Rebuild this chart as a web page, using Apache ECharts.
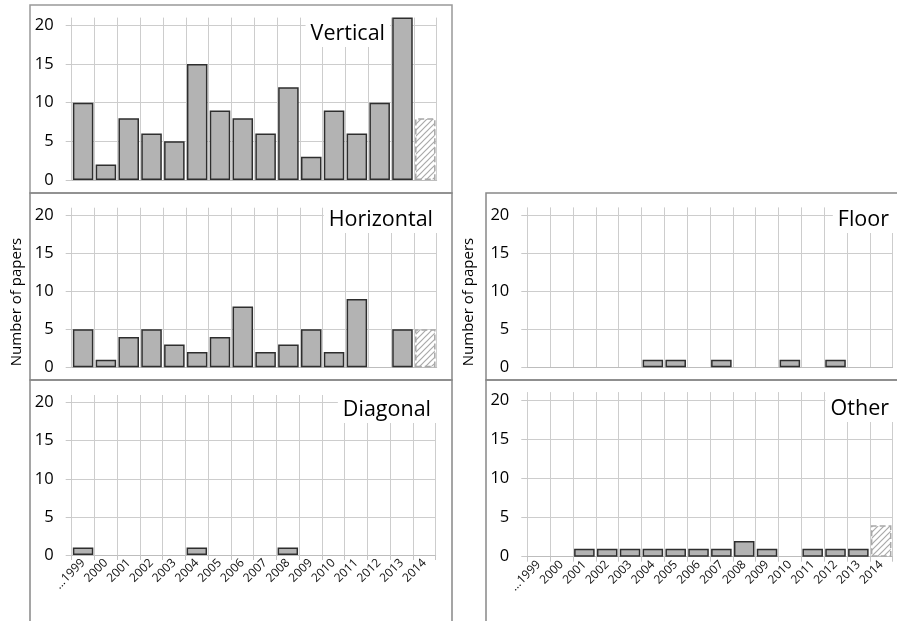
<!DOCTYPE html>
<html><head><meta charset="utf-8">
<script src="https://cdn.jsdelivr.net/npm/echarts@6/dist/echarts.min.js"></script>
<style>html,body{margin:0;padding:0;background:#fff}#c{width:897px;height:621px}</style>
</head><body><div id="c"></div>
<script>
// ---- data ----
const years = ['...1999','2000','2001','2002','2003','2004','2005','2006','2007','2008','2009','2010','2011','2012','2013','2014'];
const yTicks = [0, 5, 10, 15, 20];
const verticalCounts   = [10, 2, 8, 6, 5, 15, 9, 8, 6, 12, 3, 9, 6, 10, 21, 8];
const horizontalCounts = [5, 1, 4, 5, 3, 2, 4, 8, 2, 3, 5, 2, 9, 0, 5, 5];
const diagonalCounts   = [1, 0, 0, 0, 0, 1, 0, 0, 0, 1, 0, 0, 0, 0, 0, 0];
const floorCounts      = [0, 0, 0, 0, 0, 1, 1, 0, 1, 0, 0, 1, 0, 1, 0, 0];
const otherCounts      = [0, 0, 1, 1, 1, 1, 1, 1, 1, 2, 1, 0, 1, 1, 1, 4];
const partialYear = '2014';
const panelNames = ['Vertical', 'Horizontal', 'Diagonal', 'Floor', 'Other'];
const yAxisTitle = 'Number of papers';

// ---- layout / style ----
const FONT = '"Open Sans", "Liberation Sans", sans-serif';
const panels = [
  {counts: verticalCounts,   grid: {left: 71.7, top: 17.6, width: 365, height: 162.4}, tRight: 507, tTop: 15, labels: false},
  {counts: horizontalCounts, grid: {left: 71.7, top: 207.7, width: 365, height: 159.6}, tRight: 459, tTop: 201, labels: false},
  {counts: diagonalCounts,   grid: {left: 71.7, top: 395, width: 364, height: 160}, tRight: 461, tTop: 391, labels: true},
  {counts: floorCounts,      grid: {left: 527.3, top: 207.4, width: 365.3, height: 159.9}, tRight: 3, tTop: 201, labels: false},
  {counts: otherCounts,      grid: {left: 527.3, top: 392.1, width: 365.3, height: 164.6}, tRight: 3, tTop: 390, labels: true}
];

const pc = document.createElement('canvas'); pc.width = 6; pc.height = 6;
const g = pc.getContext('2d');
g.fillStyle = '#ffffff'; g.fillRect(0, 0, 6, 6);
g.strokeStyle = '#a9a9a9'; g.lineWidth = 1.2;
g.beginPath(); g.moveTo(0, 6); g.lineTo(6, 0); g.moveTo(-1, 1); g.lineTo(1, -1); g.moveTo(5, 7); g.lineTo(7, 5); g.stroke();
const hatchStyle = {color: {image: pc, repeat: 'repeat'}, borderColor: '#a8a8a8', borderType: 'dashed', borderWidth: 1.5};

function toData(arr) {
  return arr.map((v, i) => v === 0 ? '-' : (years[i] === partialYear ? {value: v, itemStyle: hatchStyle} : v));
}

const option = {
  animation: false,
  backgroundColor: '#fff',
  title: panels.map((p, i) => ({
    text: panelNames[i], right: p.tRight, top: p.tTop, backgroundColor: '#fff', padding: [7, 5, 2, 5],
    textStyle: {fontFamily: FONT, fontSize: 21.5, fontWeight: 'normal', color: '#000', lineHeight: 23}
  })),
  grid: panels.map(p => Object.assign({containLabel: false}, p.grid)),
  xAxis: panels.map((p, i) => ({
    type: 'category', gridIndex: i, data: years, boundaryGap: true,
    axisLine: {show: true, lineStyle: {color: '#bdbdbd', width: 1}},
    axisTick: {show: p.labels, interval: 0, length: 5, lineStyle: {color: '#c4c4c4'}},
    axisLabel: {show: p.labels, interval: 0, rotate: 45, margin: 6, fontSize: 12, color: '#111', fontFamily: FONT},
    splitLine: {show: true, interval: 0, lineStyle: {color: '#cdcdcd', width: 1}}
  })),
  yAxis: panels.map((p, i) => ({
    type: 'value', gridIndex: i, min: 0, max: 21, interval: 5,
    axisLine: {show: false},
    axisTick: {show: true, length: 6, customValues: yTicks, lineStyle: {color: '#c8c8c8'}},
    axisLabel: {show: true, customValues: yTicks, margin: 18, fontSize: 16.5, color: '#000', fontFamily: FONT},
    splitLine: {show: true, lineStyle: {color: '#cdcdcd', width: 1}}
  })),
  series: panels.map((p, i) => ({
    type: 'bar', xAxisIndex: i, yAxisIndex: i, data: toData(p.counts), barCategoryGap: '10%',
    itemStyle: {color: '#b3b3b3', borderColor: '#2e2e2e', borderWidth: 1.5},
    emphasis: {disabled: true}, silent: true
  })),
  graphic: [
    {type: 'rect', shape: {x: 30, y: 5, width: 422, height: 188}, style: {fill: 'none', stroke: '#999', lineWidth: 1.5}, z: 100},
    {type: 'rect', shape: {x: 30, y: 193, width: 422, height: 187}, style: {fill: 'none', stroke: '#888', lineWidth: 1.5}, z: 100},
    {type: 'rect', shape: {x: 30, y: 380, width: 422, height: 260}, style: {fill: 'none', stroke: '#888', lineWidth: 1.5}, z: 100},
    {type: 'rect', shape: {x: 486, y: 193, width: 420, height: 187}, style: {fill: 'none', stroke: '#888', lineWidth: 1.5}, z: 100},
    {type: 'rect', shape: {x: 486, y: 380, width: 420, height: 260}, style: {fill: 'none', stroke: '#888', lineWidth: 1.5}, z: 100},
    {type: 'text', x: 17, y: 302, rotation: Math.PI / 2, style: {text: yAxisTitle, font: '15px ' + FONT, fill: '#000', align: 'center', verticalAlign: 'middle'}},
    {type: 'text', x: 469, y: 302, rotation: Math.PI / 2, style: {text: yAxisTitle, font: '15px ' + FONT, fill: '#000', align: 'center', verticalAlign: 'middle'}}
  ]
};
const chart = echarts.init(document.getElementById('c'), null, {renderer: 'canvas'});
chart.setOption(option);
</script></body></html>
